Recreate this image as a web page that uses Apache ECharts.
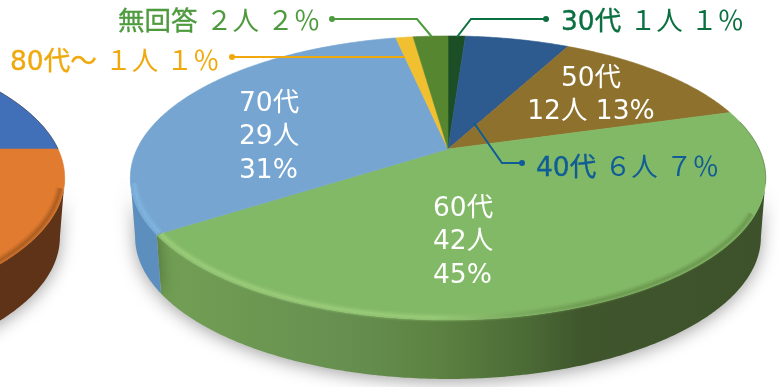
<!DOCTYPE html>
<html lang="ja">
<head>
<meta charset="utf-8">
<title>年代別の内訳</title>
<style>
  html, body { margin: 0; padding: 0; background: #ffffff; }
  #chart { width: 779px; height: 387px; }
</style>
<script src="https://cdn.jsdelivr.net/npm/echarts@6/dist/echarts.min.js"></script>
</head>
<body>
<div id="chart"></div>
<script>
// Respondents by age group
const categories = ['30代', '40代', '50代', '60代', '70代', '80代～', '無回答'];
const people = [1, 6, 12, 42, 29, 1, 2];
const percents = [1, 7, 13, 45, 31, 1, 2];
// Neighbouring pie, only partly in frame
const sideCategories = ['A', 'B'];
const sideValues = [25, 75];

// Colours of the slices
const topColors = ['#1c4f25', '#2d5a8f', '#8e712c', '#82b966', '#75a5d0', '#f0c030', '#56862f'];
const sideTopColors = ['#4270b8', '#e07b30'];

const FONT_FAMILY = '"DejaVu Sans", "Noto Sans CJK JP", sans-serif';
const TAU = Math.PI * 2;

// Tilted-disc projection: the hub sits above the centre of the visible ellipse
const persp = 0.204, spanX = 311, spanY = 105.7, hubY = 149;
const WALL_DROP = 59, WALL_SCALE = 0.985;
const deg = (d) => d * Math.PI / 180;
// Angles at which the rim turns from the back of the disc to the front
const FRONT_FROM = deg(101.8), FRONT_TO = deg(258.2);

function project(cx, theta, radius, lowered) {
  const u = Math.sin(theta) * radius;
  const v = -Math.cos(theta) * radius;
  const w = 1 - persp * v;
  const s = lowered ? WALL_SCALE : 1;
  return [
    cx + s * spanX * u / w,
    (spanY * v + hubY) / w + (lowered ? WALL_DROP : 0)
  ];
}
function arc(cx, from, to, radius, lowered) {
  const steps = Math.max(2, Math.ceil(Math.abs(to - from) / 0.01));
  const pts = [];
  for (let i = 0; i <= steps; i++) {
    pts.push(project(cx, from + (to - from) * i / steps, radius, lowered));
  }
  return pts;
}
function sliceAngles(values) {
  const total = values.reduce((a, b) => a + b, 0);
  let sum = 0;
  return values.map((val) => {
    const from = echarts.number.linearMap(sum, [0, total], [0, TAU]);
    sum += val;
    return [from, echarts.number.linearMap(sum, [0, total], [0, TAU])];
  });
}
const hGrad = (x0, x1, stops) => new echarts.graphic.LinearGradient(
  x0, 0, x1, 0, stops.map(([offset, color]) => ({ offset, color })), true);

const CX_MAIN = 448, CX_SIDE = -253;
const mainAngles = sliceAngles(people);
const sideAngles = sliceAngles(sideValues);

// Wall fills, keyed by slice index
const wallFill = {
  3: hGrad(160, 765, [[0, '#729f54'], [0.3, '#679050'], [0.45, '#5d8342'], [0.6, '#4c6c36'], [0.7, '#3f552c'], [1, '#3d522a']]),
  4: '#5c8fbe'
};
const rimStroke = {
  3: hGrad(160, 765, [[0, '#a2d07e'], [0.45, '#a0cf7d'], [0.58, '#7ba95d'], [0.72, '#66904a'], [1, '#66904a']]),
  4: '#84bae9'
};

function wallItem(cx, angles, fillOf) {
  return function (params) {
    const [a, b] = angles[params.dataIndex];
    const fill = fillOf(params.dataIndex);
    const from = Math.max(a, FRONT_FROM);
    const to = Math.min(b, FRONT_TO);
    if (!fill || to <= from) return null;
    const points = arc(cx, from, to, 1, false).concat(arc(cx, to, from, 1, true));
    return {
      type: 'polygon', silent: true, shape: { points },
      style: { fill, shadowBlur: 17, shadowColor: 'rgba(0,0,0,0.36)', shadowOffsetY: 3 }
    };
  };
}
function topItem(cx, angles, colors) {
  return function (params) {
    const [from, to] = angles[params.dataIndex];
    const points = [[cx, hubY]].concat(arc(cx, from, to, 1, false));
    const c = colors[params.dataIndex];
    return {
      type: 'polygon', silent: true, shape: { points },
      style: { fill: c, stroke: c, lineWidth: 0.6 }
    };
  };
}
// Bevel along the front edge, layered strokes give it a soft falloff
const BEVEL = [[9, 0.12], [7, 0.16], [5, 0.22], [3, 0.3], [1.5, 0.3]];
function softStroke(points, color, layers) {
  return layers.map(([lineWidth, opacity]) => ({
    type: 'polyline', silent: true, shape: { points },
    style: { fill: null, stroke: color, lineWidth, opacity }
  }));
}
function rimItem(params) {
  const i = params.dataIndex;
  const [from, to] = mainAngles[i];
  if (i === 3) {
    return { type: 'group', children: [
      ...softStroke(arc(CX_MAIN, deg(116), to - 0.005, 0.989, false), rimStroke[3], BEVEL),
      ...softStroke(arc(CX_MAIN, deg(78), deg(104), 1, false), '#4a5a3a', [[1, 0.45]])
    ]};
  }
  if (i === 4) {
    return { type: 'group', children:
      softStroke(arc(CX_MAIN, from + 0.005, deg(256), 0.989, false), rimStroke[4], BEVEL)
    };
  }
  return null;
}
function sideRimItem(params) {
  if (params.dataIndex === 1) {
    return { type: 'group', children:
      softStroke(arc(CX_SIDE, deg(106), deg(150), 0.989, false), '#a0561f', BEVEL)
    };
  }
  return { type: 'group', children:
    softStroke(arc(CX_SIDE, deg(62), deg(90), 1, false), '#3a3030', [[1, 0.5]])
  };
}

// Text and leader placement
const insideLabels = {
  2: { x: 591, y: 93, align: 'center', sep: ['\n', ' '] },
  3: { x: 433, y: 240, align: 'left', sep: ['\n', '\n'] },
  4: { x: 239, y: 135, align: 'left', sep: ['\n', '\n'] }
};
const outsideLabels = {
  0: { x: 561, y: 21, color: '#0b7040', path: [[546, 19], [471, 19], [457, 37]] },
  1: { x: 536, y: 167, color: '#0f5c96', path: [[522, 163], [502, 163], [474, 123]] },
  5: { x: 10, y: 61, color: '#f0a90c', path: [[232, 57], [405, 57]] },
  6: { x: 118, y: 21, color: '#4e9a3e', path: [[332, 19], [417, 19], [432, 37]] }
};
const FONT_SIZE = 26.5;
const toWide = (n) => String(n).replace(/[0-9]/g, (d) => String.fromCharCode(0xFF10 + Number(d)));

function labelItem(params) {
  const i = params.dataIndex;
  const inside = insideLabels[i];
  if (inside) {
    const text = categories[i] + inside.sep[0] + people[i] + '人' + inside.sep[1] + percents[i] + '%';
    return {
      type: 'text', silent: true, x: inside.x, y: inside.y + 2.5,
      style: {
        text, fill: '#ffffff', fontSize: FONT_SIZE, fontFamily: FONT_FAMILY, lineHeight: 33.5,
        align: inside.align, verticalAlign: 'middle'
      }
    };
  }
  const o = outsideLabels[i];
  const [dotX, dotY] = o.path[0];
  return { type: 'group', children: [
    {
      type: 'polyline', silent: true, shape: { points: o.path },
      style: { fill: null, stroke: o.color, lineWidth: 2 }
    },
    {
      type: 'circle', silent: true, shape: { cx: dotX, cy: dotY, r: 3 },
      style: { fill: o.color }
    },
    {
      type: 'text', silent: true, x: o.x, y: o.y + 2,
      style: {
        text: '{head|' + categories[i] + '}{rest| ' + toWide(people[i]) + '人 ' + toWide(percents[i]) + '％}',
        fontSize: FONT_SIZE, fontFamily: FONT_FAMILY,
        align: 'left', verticalAlign: 'middle',
        rich: {
          head: { fill: o.color, fontSize: FONT_SIZE, fontFamily: FONT_FAMILY, stroke: o.color, lineWidth: 0.35 },
          rest: { fill: o.color, fontSize: FONT_SIZE, fontFamily: FONT_FAMILY }
        }
      }
    }
  ]};
}

const mainData = categories.map((name, i) => ({ name, value: people[i] }));
const sideData = sideCategories.map((name, i) => ({ name, value: sideValues[i] }));
const layer = (data, renderItem, z) => ({
  type: 'custom', coordinateSystem: 'none', data, renderItem, z, silent: true, animation: false
});

const chart = echarts.init(document.getElementById('chart'), null, { renderer: 'canvas' });
chart.setOption({
  backgroundColor: '#ffffff',
  animation: false,
  series: [
    layer(sideData, wallItem(CX_SIDE, sideAngles, (i) => (i === 1 ? '#5e3317' : null)), 1),
    layer(sideData, topItem(CX_SIDE, sideAngles, sideTopColors), 2),
    layer(sideData, sideRimItem, 3),
    layer(mainData, wallItem(CX_MAIN, mainAngles, (i) => wallFill[i]), 4),
    layer(mainData, topItem(CX_MAIN, mainAngles, topColors), 5),
    layer(mainData, rimItem, 6),
    layer(mainData, labelItem, 7)
  ]
});
</script>
</body>
</html>
